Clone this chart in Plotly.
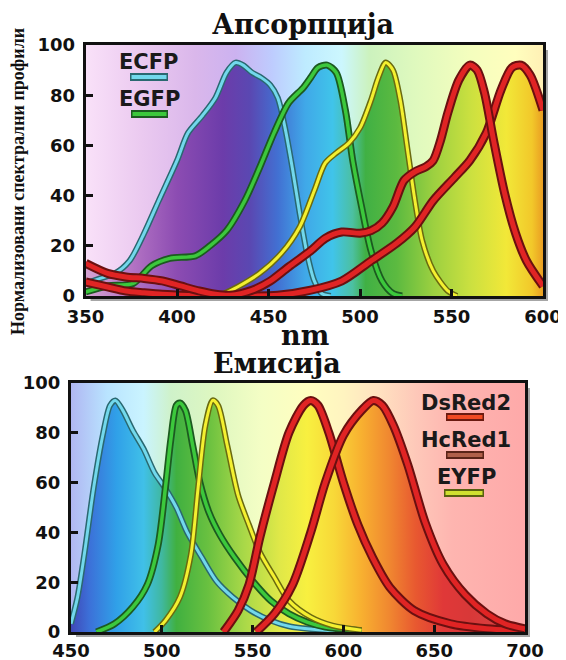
import plotly.graph_objects as go

# page is 566x660; the html body adds an 8px margin, so the figure is drawn 8px in
W, H = 566, 660
OFF = 8
FW, FH = W - OFF, H - OFF
def px(x): return (x - OFF) / FW
def py(y): return 1 - (y - OFF) / FH

# ---------------- data: absorption (top) ----------------
abs_ecfp_x = [350, 358, 366, 374, 382, 390, 400, 406, 414, 421, 427, 432, 436, 441, 446, 451, 455, 459, 463, 467, 471, 475, 479, 484]
abs_ecfp_y = [5, 7, 9, 14, 25, 38, 54, 65, 72, 79, 89, 93, 92, 89, 87, 84, 79, 67, 51, 33, 17, 6, 1, 0]

abs_egfp_x = [350, 362, 376, 386, 396, 410, 418, 427, 437, 445, 453, 461, 469, 473, 477, 482, 487, 492, 496, 501, 506, 512, 518, 523]
abs_egfp_y = [1.6, 4, 5, 12, 15, 16, 20, 26, 38, 51, 65, 77, 83, 87, 91, 92, 89, 74, 54, 35, 18, 6, 1, 0]

abs_eyfp_x = [423, 433, 445, 457, 467, 475, 481, 487, 494, 500, 506, 510, 514, 518, 522, 526, 530, 534, 540, 548, 553]
abs_eyfp_y = [0, 3.6, 9, 17, 27.5, 42, 53, 57, 61, 67, 78, 87, 93, 90, 78, 58, 38, 22, 10, 2, 0]

abs_dsred_x = [350, 362, 372, 382, 392, 402, 412, 421, 429, 441, 451, 461, 473, 481, 490, 500, 506, 512, 518, 524, 530, 536, 540, 544, 548, 554, 560, 564, 568, 573, 579, 585, 591, 600]
abs_dsred_y = [13, 9, 7.6, 7, 6, 4, 2, 0.7, 0.3, 2.3, 6, 11.6, 18, 23, 25.5, 25, 26, 29, 35.5, 46, 49.5, 51.5, 54, 62, 73, 86, 92, 90, 81, 62, 41, 25, 14, 4]

abs_hcred_x = [350, 362, 372, 382, 392, 402, 420, 440, 455, 473, 490, 506, 520, 530, 540, 552, 560, 569, 577, 583, 588, 593, 600]
abs_hcred_y = [5.6, 3.6, 2, 1.3, 0.7, 0.3, 0, 0, 0.3, 2.3, 6, 14, 21, 27.5, 38, 47.5, 54, 65, 82, 91, 92, 88, 74]

# ---------------- data: emission (bottom) ----------------
em_ecfp_x = [450, 453.6, 457.5, 462.5, 467.5, 471.5, 474.5, 478.5, 484, 490, 496, 502, 508, 514, 522, 530, 539, 549, 560, 570, 590, 610]
em_ecfp_y = [3.3, 14, 32, 58, 79, 91, 93, 89, 81, 73.5, 64, 57.6, 50, 40, 30, 20.5, 14, 8.6, 4.6, 2.3, 0.7, 0]

em_egfp_x = [464, 474, 484, 492, 498, 502, 505, 508, 510, 513, 517, 521, 526, 532, 540, 550, 560, 570, 580, 590, 610]
em_egfp_y = [0, 3.3, 10, 19, 35, 58, 77.5, 91, 92, 89, 75, 60, 48, 39, 30, 20.5, 12.6, 7.3, 4, 2, 0.4]

em_eyfp_x = [496, 502, 510, 516, 520, 524, 528, 531, 536, 542, 548, 554, 562, 570, 582, 594, 610]
em_eyfp_y = [0, 4.6, 14, 31, 58, 83, 93, 91, 75, 55, 43, 32, 22, 12.6, 6, 2.6, 0.7]

em_dsred_x = [534, 542, 548, 554, 562, 570, 578, 582, 586, 592, 600, 608, 616, 625.5, 639, 659, 679, 700]
em_dsred_y = [0, 8.6, 19, 38, 60, 80, 91, 93, 91, 80, 60, 43, 30, 18, 8.6, 3.3, 1.3, 0.4]

em_hcred_x = [552, 562, 572, 582, 590, 600, 610, 616.5, 621.5, 627.5, 635.5, 645, 655, 667, 679, 689, 700]
em_hcred_y = [0, 7.3, 19, 40, 60, 79, 89, 93, 91, 83, 67, 44, 27, 15, 7.3, 3.3, 1.3]

abs_range = [350, 600]
em_range = [450, 700]
x_ticks_abs = [350, 400, 450, 500, 550, 600]
x_ticks_em = [450, 500, 550, 600, 650, 700]
y_ticks = [0, 20, 40, 60, 80, 100]

title_abs = "Апсорпција"
title_em = "Емисија"
x_title = "nm"
y_title = "Нормализовани спектрални профили"
legend_top = ["ECFP", "EGFP"]
legend_bottom = ["DsRed2", "HcRed1", "EYFP"]

# ---------------- styles ----------------
BG_OPACITY = 0.85
PLOT_BG = (176, 176, 176)

def comp(hexc):
    h = hexc.lstrip('#')
    r, g, b = int(h[0:2], 16), int(h[2:4], 16), int(h[4:6], 16)
    out = []
    for c, bgc in zip((r, g, b), PLOT_BG):
        v = (c - (1 - BG_OPACITY) * bgc) / BG_OPACITY
        out.append(max(0, min(255, int(round(v)))))
    return 'rgb(%d,%d,%d)' % tuple(out)

def scale(stops, lo, hi, f=lambda c: c):
    return [[(w - lo) / (hi - lo), f(c)] for w, c in stops]

pastel_abs = [(350, '#eedaee'), (380, '#e2c6e6'), (410, '#d4b6e2'), (432, '#c8b2e6'),
              (452, '#bcc8f2'), (470, '#bce2f6'), (490, '#c8ecf2'), (505, '#c8e8bc'),
              (530, '#d8eebc'), (560, '#eaf2bc'), (585, '#f6f2bc'), (600, '#f6e6b4')]
sat_abs = [(350, '#d6a4d2'), (375, '#b474c4'), (400, '#8c4cb2'), (425, '#6c3caa'),
           (440, '#5a48b2'), (455, '#4270d2'), (470, '#40a8e8'), (485, '#40c4ea'),
           (496, '#4cc0a0'), (503, '#40b044'), (520, '#5cba40'), (540, '#9cd040'),
           (560, '#cae040'), (580, '#f2e838'), (594, '#f2c82a'), (600, '#ea9e22')]
pastel_em = [(450, '#b0b6e8'), (470, '#b8dcf4'), (490, '#c6eaf4'), (505, '#cae8c6'),
             (530, '#d8ecbe'), (555, '#eaf2c2'), (580, '#f6f2be'), (600, '#f6eabe'),
             (620, '#f6dabe'), (640, '#f2c4b8'), (660, '#f2b4b0'), (700, '#f2aaaa')]
sat_em = [(450, '#4048b8'), (460, '#3c70d8'), (475, '#30a0e8'), (490, '#40c0e8'),
          (500, '#40b8a0'), (508, '#40b040'), (525, '#68c040'), (545, '#a8d848'),
          (565, '#e0e848'), (580, '#f8f040'), (595, '#f8d838'), (610, '#f8b030'),
          (625, '#f08830'), (640, '#e85830'), (655, '#e03838'), (670, '#d83838'),
          (700, '#d84848')]

CYAN = dict(outline='#2a6870', core='#72d8ec', wo=6, wc=3)
GREEN = dict(outline='#1c5a20', core='#3cc83c', wo=7, wc=3.5)
YELLOW = dict(outline='#6a6a10', core='#f4f030', wo=6, wc=3)
RED = dict(outline='#6a1010', core='#e02424', wo=9, wc=5)

TICK_FONT = dict(family='DejaVu Sans', size=18, color='#111111', weight='bold')
SERIF_T = dict(family='DejaVu Serif', size=27, color='#111111', weight='bold')

fig = go.Figure()

def add_bg(xa, ya, rng, pastel):
    fig.add_trace(go.Scatter(x=rng, y=[100, 100], xaxis=xa, yaxis=ya, mode='none',
                             fill='tozeroy', opacity=BG_OPACITY, hoverinfo='skip',
                             fillgradient=dict(type='horizontal', colorscale=scale(pastel, rng[0], rng[1], comp),
                                               start=rng[0], stop=rng[1]),
                             showlegend=False))

def add_fill(xa, ya, xs, ys, rng, sat):
    fig.add_trace(go.Scatter(x=xs, y=ys, xaxis=xa, yaxis=ya, mode='none', fill='tozeroy',
                             line=dict(shape='spline', smoothing=0.8), opacity=0.92,
                             fillgradient=dict(type='horizontal', colorscale=scale(sat, rng[0], rng[1]),
                                               start=rng[0], stop=rng[1]),
                             hoverinfo='skip', showlegend=False))

def add_line(xa, ya, xs, ys, st):
    fig.add_trace(go.Scatter(x=xs, y=ys, xaxis=xa, yaxis=ya, mode='lines',
                             line=dict(color=st['outline'], width=st['wo'], shape='spline', smoothing=0.8),
                             hoverinfo='skip', showlegend=False))
    fig.add_trace(go.Scatter(x=xs, y=ys, xaxis=xa, yaxis=ya, mode='lines',
                             line=dict(color=st['core'], width=st['wc'], shape='spline', smoothing=0.8),
                             hoverinfo='skip', showlegend=False))

top = [(abs_ecfp_x, abs_ecfp_y, CYAN), (abs_egfp_x, abs_egfp_y, GREEN), (abs_eyfp_x, abs_eyfp_y, YELLOW),
       (abs_hcred_x, abs_hcred_y, RED), (abs_dsred_x, abs_dsred_y, RED)]
bot = [(em_ecfp_x, em_ecfp_y, CYAN), (em_egfp_x, em_egfp_y, GREEN), (em_eyfp_x, em_eyfp_y, YELLOW),
       (em_dsred_x, em_dsred_y, RED), (em_hcred_x, em_hcred_y, RED)]

add_bg('x', 'y', abs_range, pastel_abs)
add_bg('x2', 'y2', em_range, pastel_em)
for xs, ys, st in top:
    add_fill('x', 'y', xs, ys, abs_range, sat_abs)
for xs, ys, st in bot:
    add_fill('x2', 'y2', xs, ys, em_range, sat_em)
for xs, ys, st in top:
    add_line('x', 'y', xs, ys, st)
for xs, ys, st in bot:
    add_line('x2', 'y2', xs, ys, st)

# plot area boxes in page pixels (left, top, right, bottom)
TOP_BOX = (85.6, 45, 543, 296)
BOT_BOX = (71, 383, 525, 632)

GRID = 'rgba(255,255,255,0.9)'

def xaxis(box, rng, ticks, standoff):
    return dict(domain=[px(box[0]), px(box[2])], range=rng, tickvals=ticks, ticks='inside',
                ticklen=7, tickwidth=3, tickcolor='#111', showline=True, linewidth=3,
                linecolor='#111', mirror=True, showgrid=True, gridcolor=GRID,
                gridwidth=1, tickfont=TICK_FONT, zeroline=False, fixedrange=True, automargin=False,
                ticklabelstandoff=standoff,
                minor=dict(dtick=6.25, tick0=rng[0], showgrid=True, gridcolor=GRID, gridwidth=1))

def yaxis(box):
    return dict(domain=[py(box[3]), py(box[1])], range=[0, 100], tickvals=y_ticks, ticks='inside',
                ticklen=7, tickwidth=3, tickcolor='#111', showline=True, linewidth=3,
                linecolor='#111', mirror=True, showgrid=True, gridcolor=GRID,
                gridwidth=1, tickfont=TICK_FONT, zeroline=False, fixedrange=True, ticklabelstandoff=4,
                automargin=False,
                minor=dict(dtick=5, tick0=0, showgrid=True, gridcolor=GRID, gridwidth=1))

xa1 = xaxis(TOP_BOX, abs_range, x_ticks_abs, 2); xa1['anchor'] = 'y'
ya1 = yaxis(TOP_BOX); ya1['anchor'] = 'x'
xa2 = xaxis(BOT_BOX, em_range, x_ticks_em, 0); xa2['anchor'] = 'y2'
ya2 = yaxis(BOT_BOX); ya2['anchor'] = 'x2'

shapes = []
for box in (TOP_BOX, BOT_BOX):
    shapes.append(dict(type='rect', xref='paper', yref='paper', layer='below',
                       x0=px(box[0] + 5), x1=px(box[2] + 5), y0=py(box[3] + 5), y1=py(box[1] + 5),
                       fillcolor='rgba(0,0,0,0.35)', line=dict(width=0)))

def swatch(x0, x1, y, outline, core):
    shapes.append(dict(type='line', xref='paper', yref='paper', layer='above',
                       x0=px(x0), x1=px(x1), y0=py(y), y1=py(y), line=dict(color=outline, width=8)))
    shapes.append(dict(type='line', xref='paper', yref='paper', layer='above',
                       x0=px(x0 + 1.5), x1=px(x1 - 1.5), y0=py(y), y1=py(y), line=dict(color=core, width=4)))

swatch(130, 168, 77, CYAN['outline'], CYAN['core'])
swatch(131, 168, 114, GREEN['outline'], GREEN['core'])
swatch(446, 484, 417, '#6a1a10', '#f04a22')
swatch(446, 484, 455, '#5a2418', '#b0604a')
swatch(444, 484, 493, '#5a6010', '#d0e030')

LEG_FONT = dict(family='DejaVu Sans', size=21, color='#1a1a1a', weight='bold')
ann = []
def text(t, x, y, font, **kw):
    ann.append(dict(text=t, x=px(x), y=py(y), xref='paper', yref='paper', showarrow=False,
                    xanchor='center', yanchor='middle', font=font, **kw))

text(title_abs, 303, 25, SERIF_T)
text(title_em, 277, 363, SERIF_T)
text(x_title, 305, 335, SERIF_T)
text(y_title, 18, 182, dict(family='Liberation Serif', size=18, color='#111', weight='bold'), textangle=-90)
text(legend_top[0], 149, 62, LEG_FONT)
text(legend_top[1], 149, 99, LEG_FONT)
text(legend_bottom[0], 466, 403, LEG_FONT)
text(legend_bottom[1], 466, 440, LEG_FONT)
text(legend_bottom[2], 466, 477, LEG_FONT)

fig.update_layout(width=FW, height=FH, margin=dict(l=0, r=0, t=0, b=0, pad=0, autoexpand=False),
                  paper_bgcolor='white', plot_bgcolor='rgb(%d,%d,%d)' % PLOT_BG,
                  xaxis=xa1, yaxis=ya1, xaxis2=xa2, yaxis2=ya2,
                  shapes=shapes, annotations=ann, showlegend=False)

fig.write_html("out.html")
